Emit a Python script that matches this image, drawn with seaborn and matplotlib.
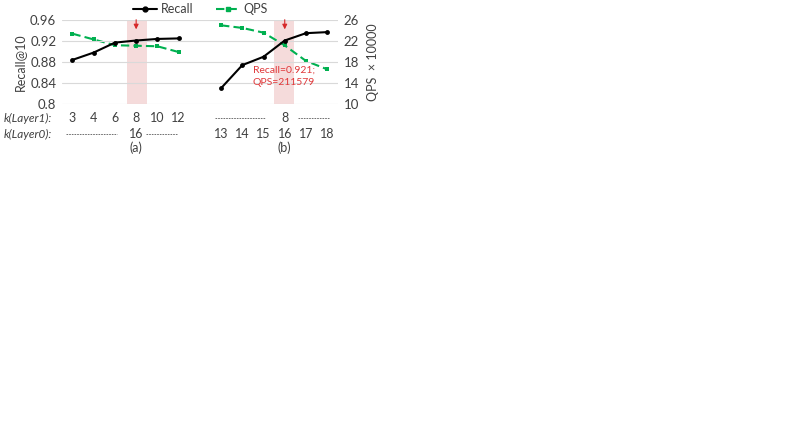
import numpy as np
import pandas as pd
import matplotlib
matplotlib.use("Agg")
import matplotlib.pyplot as plt
import matplotlib.transforms as mtransforms
from matplotlib.lines import Line2D
import seaborn as sns

# data
k_layer1_a = [3, 4, 6, 8, 10, 12]
recall_a = [0.884, 0.898, 0.917, 0.921, 0.924, 0.925]
qps_a = [23.4, 22.3, 21.2, 21.1, 21.0, 19.9]

k_layer0_b = [13, 14, 15, 16, 17, 18]
recall_b = [0.830, 0.874, 0.890, 0.921, 0.935, 0.937]
qps_b = [25.0, 24.5, 23.6, 21.16, 18.2, 16.6]

sns.set_theme(style="white")
plt.rcParams['font.family'] = ['Lato', 'DejaVu Sans']
txt = '#404040'
green = '#00b050'

# categorical slots: 6 for (a), one empty slot, 6 for (b)
pos_a = np.arange(len(k_layer1_a))
pos_b = np.arange(len(k_layer0_b)) + len(k_layer1_a) + 1
df_a = pd.DataFrame({'pos': pos_a, 'recall': recall_a, 'qps': qps_a})
df_b = pd.DataFrame({'pos': pos_b, 'recall': recall_b, 'qps': qps_b})

fig = plt.figure(figsize=(7.93, 4.46), dpi=100)
ax = fig.add_axes([0.078, 0.767, 0.348, 0.188])
ax2 = ax.twinx()

# highlighted settings (behind everything)
ax2.axvspan(2.55, 3.5, color='#f2d0d0', alpha=0.75, lw=0, zorder=0)
ax2.axvspan(9.5, 10.45, color='#f2d0d0', alpha=0.75, lw=0, zorder=0)

for d in (df_a, df_b):
    sns.lineplot(data=d, x='pos', y='recall', ax=ax, color='black', lw=1.5,
                 marker='o', markersize=3.5, markeredgewidth=0, zorder=5)
    sns.lineplot(data=d, x='pos', y='qps', ax=ax2, color=green, lw=1.5,
                 linestyle=(0, (4, 2)), marker='s', markersize=3.5,
                 markeredgewidth=0, zorder=4)

ax.set_xlim(-0.5, 12.5)
ax2.set_xlim(-0.5, 12.5)
ax.set_ylim(0.8, 0.96)
ax.set_yticks([0.8, 0.84, 0.88, 0.92, 0.96])
ax.set_yticklabels(['0.8', '0.84', '0.88', '0.92', '0.96'])
ax2.set_ylim(10, 26)
ax2.set_yticks([10, 14, 18, 22, 26])
ax.set_xticks([])
ax.set_xlabel('')
ax2.set_xlabel('')
ax.set_ylabel('Recall@10', fontsize=9, color=txt, labelpad=3)
ax2.set_ylabel('QPS  × 10000', fontsize=9, color=txt, labelpad=6)
for a in (ax, ax2):
    a.tick_params(axis='y', labelsize=9.5, colors=txt, length=0, pad=4)
    for s in a.spines.values():
        s.set_visible(False)
ax.grid(axis='y', color='#d9d9d9', lw=0.8)
ax.set_zorder(ax2.get_zorder() + 1)
ax.patch.set_visible(False)

for xp in (pos_a[3], pos_b[3]):
    ax.annotate('', xy=(xp, 0.937), xytext=(xp, 0.966), annotation_clip=False,
                arrowprops=dict(arrowstyle='-|>', color='#d62728', lw=0.8,
                                mutation_scale=7))
ax.text(8.5, 0.853, 'Recall=0.921;\nQPS=211579', color='#e0383a', fontsize=7.5,
        ha='left', va='center', linespacing=1.4)

# rows of parameter labels under the chart
tr = mtransforms.blended_transform_factory(ax.transData, ax.transAxes)
y1, y0, ycap = -0.17, -0.36, -0.52
fs = 9
for p, k in zip(pos_a, k_layer1_a):
    ax.text(p, y1, str(k), transform=tr, ha='center', va='center', fontsize=fs, color=txt)
ax.text(pos_a[3], y0, '16', transform=tr, ha='center', va='center', fontsize=fs, color=txt)
for p, k in zip(pos_b, k_layer0_b):
    ax.text(p, y0, str(k), transform=tr, ha='center', va='center', fontsize=fs, color=txt)
ax.text(pos_b[3], y1, '8', transform=tr, ha='center', va='center', fontsize=fs, color=txt)
ax.text(pos_a[3], ycap, '(a)', transform=tr, ha='center', va='center', fontsize=fs, color=txt)
ax.text(pos_b[3], ycap, '(b)', transform=tr, ha='center', va='center', fontsize=fs, color=txt)

for x0, x1, yy in [(-0.31, 2.09, y0), (3.46, 4.97, y0), (6.72, 9.08, y1), (10.63, 12.14, y1)]:
    ax.plot([x0, x1], [yy, yy], transform=tr, clip_on=False, color='#595959',
            lw=0.6, linestyle=(0, (2, 1.2)))

fy1 = 1 - 118 / 446
fy0 = 1 - 134 / 446
fig.text(0.004, fy1, 'k(Layer1):', style='italic', fontsize=8.5, color=txt, va='center')
fig.text(0.004, fy0, 'k(Layer0):', style='italic', fontsize=8.5, color=txt, va='center')

handles = [Line2D([], [], color='black', lw=1.5, marker='o', markersize=3.5),
           Line2D([], [], color=green, lw=1.5, linestyle=(0, (4, 2)), marker='s', markersize=3.5)]
fig.legend(handles, ['Recall', 'QPS'], loc='center', bbox_to_anchor=(0.253, 0.98),
           ncol=2, frameon=False, fontsize=9, handlelength=1.9, columnspacing=1.8,
           handletextpad=0.3, labelcolor=txt, borderpad=0)

fig.savefig('out.png', dpi=100)
